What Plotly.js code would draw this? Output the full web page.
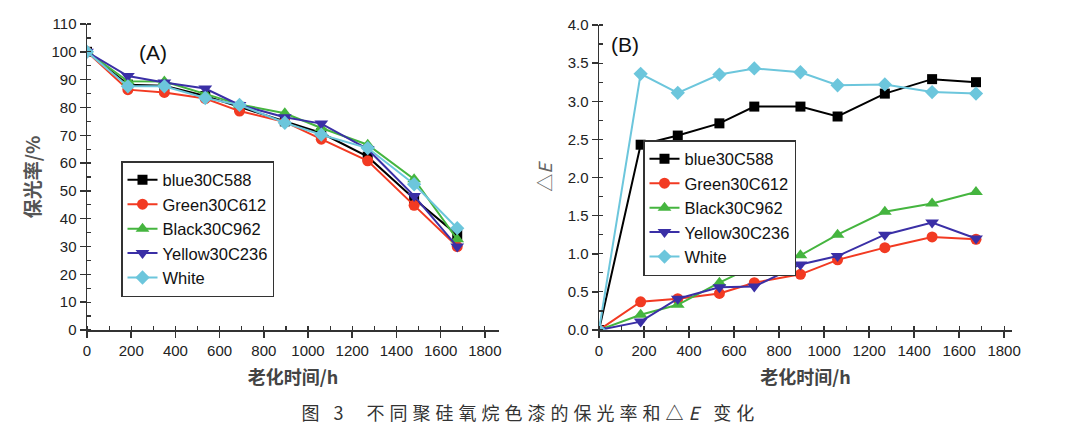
<!DOCTYPE html>
<html>
<head>
<meta charset="utf-8">
<script src="https://cdn.plot.ly/plotly-3.0.1.min.js"></script>
<style>
  html, body { margin: 0; padding: 0; background: #ffffff; }
  #chart { width: 1080px; height: 435px; }
</style>
</head>
<body>
<div id="chart"></div>
<script>
// Aging time (h)
const hours = [0, 185, 350, 535, 690, 895, 1060, 1270, 1480, 1675];

// Series names
const seriesNames = ['blue30C588', 'Green30C612', 'Black30C962', 'Yellow30C236', 'White'];

// (A) gloss retention 保光率 (%)
const glossBlue   = [100, 88.2, 87.8, 84.1, 80.2, 75.0, 70.8, 62.3, 47.2, 34.2];
const glossGreen  = [100, 86.4, 85.4, 83.2, 78.7, 74.8, 68.6, 60.8, 44.8, 30.0];
const glossBlack  = [100, 89.4, 89.3, 84.8, 81.1, 77.9, 72.6, 66.6, 54.2, 32.6];
const glossYellow = [100, 91.3, 89.0, 86.8, 80.9, 76.5, 74.2, 65.0, 48.2, 30.0];
const glossWhite  = [100, 87.6, 87.6, 83.4, 80.9, 74.5, 70.2, 65.4, 52.4, 36.6];

// (B) colour difference ΔE
const dEBlue   = [0, 2.43, 2.55, 2.71, 2.93, 2.93, 2.80, 3.10, 3.29, 3.25];
const dEGreen  = [0, 0.37, 0.41, 0.48, 0.62, 0.73, 0.92, 1.08, 1.22, 1.19];
const dEBlack  = [0, 0.20, 0.33, 0.62, 0.84, 0.98, 1.25, 1.55, 1.66, 1.81];
const dEYellow = [0, 0.11, 0.41, 0.56, 0.57, 0.86, 0.97, 1.25, 1.41, 1.20];
const dEWhite  = [0, 3.36, 3.11, 3.35, 3.43, 3.38, 3.21, 3.22, 3.12, 3.10];

// Axis tick values / labels
const xTicks = [0, 200, 400, 600, 800, 1000, 1200, 1400, 1600, 1800];
const yTicksA = [0, 10, 20, 30, 40, 50, 60, 70, 80, 90, 100, 110];
const yTicksB = [0, 0.5, 1.0, 1.5, 2.0, 2.5, 3.0, 3.5, 4.0];
const yTickTextB = ['0.0', '0.5', '1.0', '1.5', '2.0', '2.5', '3.0', '3.5', '4.0'];

const colors = ['#000000', '#f23a22', '#45b53f', '#3a2fa6', '#6cc6dc'];
const symbols = ['square', 'circle', 'triangle-up', 'triangle-down', 'diamond'];
const sizes = [10, 11, 12, 12, 11];

const seriesA = [glossBlue, glossGreen, glossBlack, glossYellow, glossWhite];
const seriesB = [dEBlue, dEGreen, dEBlack, dEYellow, dEWhite];

const traces = [];
seriesA.forEach((ys, i) => {
  traces.push({
    type: 'scatter', mode: 'lines+markers', name: seriesNames[i],
    x: hours, y: ys, xaxis: 'x', yaxis: 'y', legend: 'legend',
    line: { color: colors[i], width: 2 },
    marker: { color: colors[i], symbol: symbols[i], size: sizes[i] }
  });
});
seriesB.forEach((ys, i) => {
  traces.push({
    type: 'scatter', mode: 'lines+markers', name: seriesNames[i],
    x: hours, y: ys, xaxis: 'x2', yaxis: 'y2', legend: 'legend2',
    line: { color: colors[i], width: 2 },
    marker: { color: colors[i], symbol: symbols[i], size: sizes[i] }
  });
});

const W = 1080, H = 435;
const fx = px => px / W;
const fy = py => (H - py) / H;

const tickFont = { family: 'Liberation Sans, Arial, sans-serif', size: 15, color: '#222' };
const cjkTitle = { family: 'Noto Sans CJK SC, sans-serif', size: 18, color: '#444', weight: 'bold' };

function xAxis(domain, range) {
  return {
    domain: domain, range: range, showgrid: false, zeroline: false,
    showline: true, linecolor: '#333', linewidth: 1.5,
    ticks: 'outside', ticklen: 6, tickwidth: 1.5, tickcolor: '#333',
    tickvals: xTicks, ticktext: xTicks.map(String), tickfont: tickFont,
    minor: { dtick: 100, ticks: 'inside', ticklen: 4, tickwidth: 1.2, tickcolor: '#333' },
    title: { text: '老化时间/h', font: cjkTitle, standoff: 14 }
  };
}
function yAxis(domain, range, vals, text, title, minorStep) {
  return {
    domain: domain, range: range, showgrid: false, zeroline: false,
    showline: true, linecolor: '#333', linewidth: 1.5,
    ticks: 'outside', ticklen: 6, tickwidth: 1.5, tickcolor: '#333',
    tickvals: vals, ticktext: text, tickfont: tickFont,
    minor: { dtick: minorStep, ticks: 'inside', ticklen: 4, tickwidth: 1.2, tickcolor: '#333' },
    title: title
  };
}

const legendFont = { family: 'Liberation Sans, Arial, sans-serif', size: 16.5, color: '#111' };

const layout = {
  width: W, height: H,
  margin: { l: 0, r: 0, t: 0, b: 0 },
  paper_bgcolor: '#ffffff', plot_bgcolor: 'rgba(0,0,0,0)',
  showlegend: true,
  xaxis: Object.assign(xAxis([fx(87), fx(499)], [0, 1864]), { anchor: 'y' }),
  xaxis2: Object.assign(xAxis([fx(599), fx(1012)], [0, 1835]), { anchor: 'y2' }),
  yaxis: Object.assign(yAxis([fy(330), fy(24)], [0, 110], yTicksA, yTicksA.map(String),
    { text: '保光率/%', font: { family: 'Noto Sans CJK SC, sans-serif', size: 19, color: '#555', weight: 'bold' }, standoff: 6 }, 5),
    { anchor: 'x' }),
  yaxis2: Object.assign(yAxis([fy(330), fy(25)], [0, 4.0], yTicksB, yTickTextB,
    { text: '△<i>E</i>', font: { family: 'Noto Sans CJK SC, sans-serif', size: 18, color: '#666' }, standoff: 10 }, 0.25),
    { anchor: 'x2' }),
  legend: {
    x: fx(121), y: fy(161), xanchor: 'left', yanchor: 'top',
    bgcolor: '#ffffff', bordercolor: '#333', borderwidth: 1.5,
    font: legendFont, tracegroupgap: 0, itemclick: false
  },
  legend2: {
    x: fx(643), y: fy(140), xanchor: 'left', yanchor: 'top',
    bgcolor: '#ffffff', bordercolor: '#333', borderwidth: 1.5,
    font: legendFont, tracegroupgap: 0, itemclick: false
  },
  annotations: [
    { text: '(A)', xref: 'paper', yref: 'paper', x: fx(153), y: fy(52), xanchor: 'center', yanchor: 'middle',
      showarrow: false, font: { family: 'Liberation Sans, Arial, sans-serif', size: 21, color: '#111' } },
    { text: '(B)', xref: 'paper', yref: 'paper', x: fx(625), y: fy(45), xanchor: 'center', yanchor: 'middle',
      showarrow: false, font: { family: 'Liberation Sans, Arial, sans-serif', size: 21, color: '#111' } },
    { text: '图 3  不同聚硅氧烷色漆的保光率和△<i>E</i> 变化', xref: 'paper', yref: 'paper', x: fx(530), y: fy(412),
      xanchor: 'center', yanchor: 'middle', showarrow: false,
      font: { family: 'Noto Sans CJK SC, sans-serif', size: 18, color: '#333' } }
  ]
};

Plotly.newPlot('chart', traces, layout, { displayModeBar: false, staticPlot: true }).then(gd => {
  gd.querySelectorAll('.annotation-text').forEach(t => {
    if (t.textContent.indexOf('图') === 0) { t.style.letterSpacing = '5px'; }
  });
});
</script>
</body>
</html>
